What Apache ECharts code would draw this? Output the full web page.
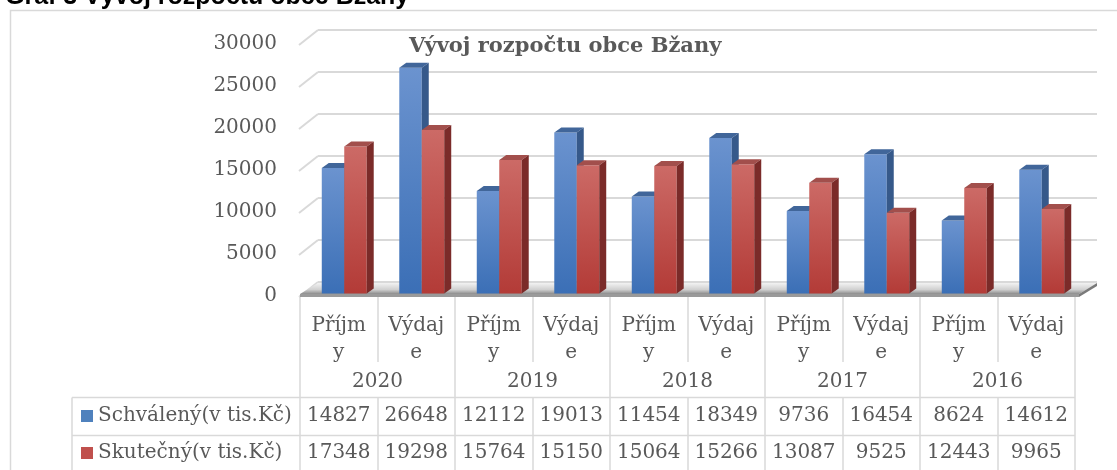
<!DOCTYPE html>
<html><head><meta charset="utf-8">
<script src="https://cdn.jsdelivr.net/npm/echarts@6/dist/echarts.min.js"></script>
<style>html,body{margin:0;padding:0;background:#fff;overflow:hidden}#c{width:1117px;height:470px}</style>
</head><body><div id="c"></div>
<script>
// ---- data ----
const categories = ['Příjmy','Výdaje','Příjmy','Výdaje','Příjmy','Výdaje','Příjmy','Výdaje','Příjmy','Výdaje'];
const years = ['2020','2019','2018','2017','2016'];
const schvaleny = [14827, 26648, 12112, 19013, 11454, 18349, 9736, 16454, 8624, 14612];
const skutecny = [17348, 19298, 15764, 15150, 15064, 15266, 13087, 9525, 12443, 9965];
const seriesNames = ['Schválený(v tis.Kč)', 'Skutečný(v tis.Kč)'];
const yTicks = [0, 5000, 10000, 15000, 20000, 25000, 30000];
const chartTitle = 'Vývoj rozpočtu obce Bžany';
const captionTitle = 'Graf 3 Vývoj rozpočtu obce Bžany';

// ---- styling ----
const SERIF = 'DejaVu Serif';
const TXT = '#595959';
const LINE = '#d9d9d9';
const DX = 7, DY = -5;
const palettes = [
  {key:'#4f81bd', top:['#6b93cf','#3b6fb6'], cap:'#41669a', side:'#36598a'},
  {key:'#c0504d', top:['#cc6a66','#b33b37'], cap:'#a24f4c', side:'#7b2b29'}
];

function barRender(k) {
  const pal = palettes[k];
  return function (params, api) {
    const i = api.value(0), v = api.value(1);
    const p = api.coord([i, v]);
    const p0 = api.coord([i, 0]);
    const band = api.size([1, 0])[0];
    const w = band * 0.29;
    const x0 = k === 0 ? p[0] - w : p[0];
    const x1 = x0 + w;
    const yt = p[1], yb = p0[1];
    return {
      type: 'group',
      children: [
        {type: 'rect', shape: {x: x0, y: yt, width: w, height: yb - yt},
          style: {fill: new echarts.graphic.LinearGradient(0, 0, 0, 1, [{offset: 0, color: pal.top[0]}, {offset: 1, color: pal.top[1]}])}},
        {type: 'polygon', shape: {points: [[x0, yt], [x0 + DX, yt + DY], [x1 + DX, yt + DY], [x1, yt]]}, style: {fill: pal.cap}},
        {type: 'polygon', shape: {points: [[x1, yt], [x1 + DX, yt + DY], [x1 + DX, yb + DY], [x1, yb]]}, style: {fill: pal.side}}
      ]
    };
  };
}

// walls: side wall slants + back wall gridlines, derived from label axis (grid 1)
function wallRender(params, api) {
  const cs = params.coordSys;
  const v = api.value(1);
  const y = api.coord([0, v])[1];
  const xl = cs.x, xr = cs.x + cs.width + 22;
  return {
    type: 'group',
    children: [
      {type: 'line', shape: {x1: xl - 1, y1: y + 1, x2: xl + 18, y2: y - 14}, style: {stroke: LINE, lineWidth: 2}},
      {type: 'line', shape: {x1: xl + 18, y1: y - 14, x2: xr, y2: y - 14}, style: {stroke: LINE, lineWidth: 2}}
    ]
  };
}

function floorRender(params, api) {
  const cs = params.coordSys;
  const yf = cs.y + cs.height - 2;   // front edge of floor
  const xl = cs.x, xr = cs.x + cs.width + 4;
  const yb = yf - 11;
  return {
    type: 'group',
    children: [
      {type: 'polygon', shape: {points: [[xl, yf], [xl + 18, yb], [xr + 18, yb], [xr, yf]]},
        style: {fill: new echarts.graphic.LinearGradient(0, 0, 0, 1, [{offset: 0, color: '#f2f2f2'}, {offset: 0.6, color: '#d0d0d0'}, {offset: 1, color: '#8c8c8c'}])}},
      {type: 'polygon', shape: {points: [[xl, yf], [xr, yf], [xr, yf + 3], [xl, yf + 3]]},
        style: {fill: '#9a9a9a'}},
      {type: 'polygon', shape: {points: [[xr, yf], [xr + 18, yb], [xr + 18, yb + 3], [xr, yf + 3]]},
        style: {fill: '#7a7a7a'}}
    ]
  };
}

const labelFont = {fontFamily: SERIF, fontSize: 20, color: TXT};

const chart = echarts.init(document.getElementById('c'), null, {renderer: 'canvas'});
chart.setOption({
  animation: false,
  backgroundColor: '#fff',
  title: [
    {text: chartTitle, left: 404, top: 29, textStyle: {fontFamily: SERIF, fontSize: 21, fontWeight: 'bold', color: TXT, lineHeight: 26}},
    {text: captionTitle, left: 0, top: -21, textStyle: {fontFamily: 'Liberation Sans', fontSize: 25, fontWeight: 'bold', color: '#000', lineHeight: 26}}
  ],
  legend: {
    data: seriesNames.map(n => ({name: n, icon: 'rect'})),
    orient: 'vertical', left: 81, top: 406, padding: 0,
    itemWidth: 12, itemHeight: 12, itemGap: 17,
    textStyle: {fontFamily: SERIF, fontSize: 20, color: TXT, lineHeight: 20},
    selectedMode: false
  },
  grid: [
    {left: 305.5, top: 39.5, width: 775, height: 253.9},
    {left: 300, top: 44, width: 775, height: 252}
  ],
  xAxis: [
    {gridIndex: 0, type: 'category', data: categories, show: false},
    {gridIndex: 1, type: 'category', data: categories, position: 'bottom', offset: 0,
      axisLine: {show: true, lineStyle: {color: LINE, width: 1.5}},
      axisTick: {show: true, length: 66, interval: 0, lineStyle: {color: LINE, width: 1.5}},
      axisLabel: Object.assign({interval: 0, margin: 16, lineHeight: 27, formatter: s => s.slice(0, 5) + '\n' + s.slice(5)}, labelFont)},
    {gridIndex: 1, type: 'category', data: years, position: 'bottom', offset: 66,
      axisLine: {show: false},
      axisTick: {show: true, length: 36, interval: 0, lineStyle: {color: LINE, width: 1.5}},
      axisLabel: Object.assign({interval: 0, margin: 10, lineHeight: 20}, labelFont)},
    {gridIndex: 1, type: 'category', data: schvaleny.map(String), position: 'bottom', offset: 102,
      axisLine: {show: false},
      axisTick: {show: true, length: 38, interval: 0, lineStyle: {color: LINE, width: 1.5}},
      axisLabel: Object.assign({interval: 0, margin: 8, lineHeight: 20}, labelFont)},
    {gridIndex: 1, type: 'category', data: skutecny.map(String), position: 'bottom', offset: 140,
      axisLine: {show: false},
      axisTick: {show: true, length: 40, interval: 0, lineStyle: {color: LINE, width: 1.5}},
      axisLabel: Object.assign({interval: 0, margin: 7, lineHeight: 20}, labelFont)}
  ],
  yAxis: [
    {gridIndex: 0, type: 'value', min: 0, max: 30000, interval: 5000, show: false},
    {gridIndex: 1, type: 'value', min: 0, max: 30000, interval: 5000,
      axisLine: {show: false}, axisTick: {show: false}, splitLine: {show: false},
      axisLabel: Object.assign({margin: 23, formatter: v => String(v)}, labelFont)}
  ],
  series: [
    {type: 'custom', xAxisIndex: 1, yAxisIndex: 1, renderItem: wallRender, silent: true,
      data: yTicks.map(v => [0, v]), encode: {x: 0, y: 1}},
    {type: 'custom', xAxisIndex: 1, yAxisIndex: 1, renderItem: floorRender, silent: true,
      data: [[0, 0]], encode: {x: 0, y: 1}},
    {name: seriesNames[0], type: 'custom', xAxisIndex: 0, yAxisIndex: 0, renderItem: barRender(0),
      itemStyle: {color: palettes[0].key}, data: schvaleny.map((v, i) => [i, v]), encode: {x: 0, y: 1}},
    {name: seriesNames[1], type: 'custom', xAxisIndex: 0, yAxisIndex: 0, renderItem: barRender(1),
      itemStyle: {color: palettes[1].key}, data: skutecny.map((v, i) => [i, v]), encode: {x: 0, y: 1}}
  ],
  graphic: [
    {type: 'rect', shape: {x: 10.5, y: 10.5, width: 1110, height: 480}, style: {fill: 'none', stroke: LINE, lineWidth: 1.5}, silent: true},
    {type: 'line', shape: {x1: 72, y1: 397.5, x2: 1075, y2: 397.5}, style: {stroke: LINE, lineWidth: 1.5}, silent: true},
    {type: 'line', shape: {x1: 72, y1: 435.5, x2: 1075, y2: 435.5}, style: {stroke: LINE, lineWidth: 1.5}, silent: true},
    {type: 'line', shape: {x1: 72, y1: 397.5, x2: 72, y2: 475}, style: {stroke: LINE, lineWidth: 1.5}, silent: true}
  ]
});
</script>
</body></html>
